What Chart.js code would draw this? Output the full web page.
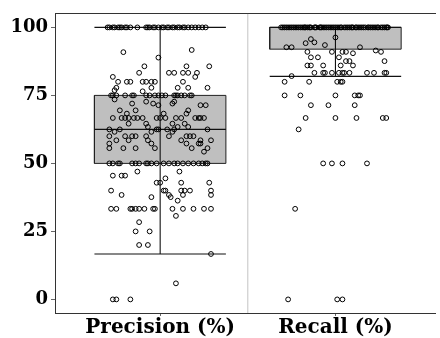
<!DOCTYPE html>
<html><head><meta charset="utf-8">
<script src="https://cdn.jsdelivr.net/npm/chart.js@4"></script>
<style>html,body{margin:0;padding:0;background:#fff}#wrap{width:440px;height:338px;position:relative}</style>
</head><body><div id="wrap"><canvas id="c"></canvas></div>
<script>
// ---------- data ----------
const categories = ['Precision (%)', 'Recall (%)'];
const yTicks = [0, 25, 50, 75, 100];
const boxQ1 = [50, 92];
const boxMedian = [62.5, 100];
const boxQ3 = [75, 100];
const whiskerLow = [16.67, 82];
const whiskerHigh = [100, 100];

const precisionValues = [
  100,100,100,100,100, 100,100,100,100,100, 100,100,100,100,100, 100,100,100,100,100, 100,100,100,100,100, 100,100,100,100,100, 100,100,100,
  90.9,91.7,88.9, 85.7,85.7,85.7, 83.3,83.3,83.3,83.3,83.3,83.3, 81.8,81.8, 80,80,80,80,80,80,80,80, 77.8,76.9, 77.8,77.8,77.8,77.8, 76.5,
  75,75,75,75,75, 75,75,75,75,75, 75,75,75,75,75, 75,75,75,75,
  73.5,71.4,71.4,72,72.7,72,71.4,72,72.7,69.5,69.5,69.5,68.3,68.3,68.3,
  66.7,66.7,66.7,66.7,66.7, 66.7,66.7,66.7,66.7,66.7, 66.7,66.7,66.7,66.7,66.7, 66.7,
  64.6,64.6,64.6,64.6, 63.4,63.4,63.4, 62.5,62.5,62.5,62.5,62.5,62.5,62.5, 61.6,61.6,61.6,
  60,60,60,60,60,60,60,60,60, 58.5,58.5,58.5,58.5,58.5,58.5, 57.3,57.3,57.3,57.3,57.3, 55.6,55.6,55.6,55.6,55.6,55.6, 54.3,
  50,50,50,50,50, 50,50,50,50,50, 50,50,50,50,50, 50,50,50,50,50, 50,50,
  45.5,45.5,45.5, 47,47, 44.5, 42.9,42.9,42.9,42.9, 40,40,40,40,40,40,40, 38.4,38.4,38.4,38.4, 37.6,37.6, 36.3,
  33.3,33.3,33.3,33.3,33.3, 33.3,33.3,33.3,33.3,33.3, 33.3,33.3,33.3,33.3,
  30.7,28.4,25,25,20,20,16.7,5.9,0,0,0
];
const precisionJitter = [
  -0.30,-0.29,-0.27,-0.26,-0.24, -0.23,-0.22,-0.20,-0.19,-0.17, -0.13,-0.08,-0.07,-0.06,-0.04, -0.03,-0.01,0.01,0.02,0.04, 0.05,0.07,0.08,0.10,0.11, 0.13,0.14,0.16,0.18,0.20, 0.22,0.24,0.26,
  -0.21,0.18,-0.01, -0.09,0.15,0.28, -0.12,0.05,0.08,0.13,0.16,0.21, -0.27,0.20, -0.24,-0.19,-0.17,-0.10,-0.08,-0.05,-0.03,0.13, -0.25,-0.26, -0.05,0.10,0.16,0.27, -0.10,
  -0.28,-0.27,-0.25,-0.20,-0.16, -0.15,-0.08,-0.06,-0.03,-0.01, 0.01,0.03,0.08,0.09,0.10, 0.12,0.14,0.17,0.18,
  -0.26,0.23,0.26,-0.16,-0.08,-0.04,-0.01,0.07,0.08,-0.23,-0.14,0.16,0.15,-0.19,0.02,
  -0.27,-0.22,-0.20,-0.18,-0.15, -0.13,-0.10,-0.02,0.00,0.03, 0.09,0.12,0.20,0.22,0.23, 0.25,
  -0.18,-0.08,0.07,0.14, -0.07,0.10,0.16, -0.29,-0.23,-0.02,-0.01,0.04,0.08,0.27, -0.26,-0.05,0.07,
  -0.29,-0.20,-0.16,-0.14,-0.08,0.05,0.15,0.17,0.19, -0.25,-0.18,-0.07,0.12,0.23,0.29, -0.29,-0.05,0.15,0.22,0.23, -0.29,-0.21,-0.14,-0.03,0.18,0.27, 0.25,
  -0.29,-0.27,-0.24,-0.23,-0.16, -0.14,-0.12,-0.08,-0.07,-0.05, -0.02,0.02,0.05,0.08,0.10, 0.13,0.16,0.19,0.22,0.24, 0.26,0.27,
  -0.27,-0.22,-0.20, -0.13,0.11, 0.03, -0.02,0.00,0.12,0.28, -0.28,0.02,0.03,0.12,0.14,0.17,0.29, -0.22,0.05,0.13,0.29, -0.05,0.06, 0.10,
  -0.28,-0.25,-0.17,-0.16,-0.14, -0.12,-0.09,-0.04,-0.03,0.07, 0.13,0.19,0.25,0.29,
  0.09,-0.12,-0.14,-0.06,-0.12,-0.07,0.29,0.09,-0.27,-0.25,-0.17
];

const recallValues = [
  100,100,100,100,100, 100,100,100,100,100, 100,100,100,100,100, 100,100,100,100,100, 100,100,100,100,100,
  100,100,100,100,100, 100,100,100,100,100, 100,100,100,100,100, 100,100,100,100,
  100,100,100,100,100, 100,100,100,100,100, 100,100,100,100,100, 100,100,100,100,100, 100,100,
  95.7,94.5,94.2,96.3,93.5, 92.7,92.7,92.7, 91.5,91, 91,91,91,91,90.5, 89,89,89, 87.6,87.6,87.6, 86,86,86,86,86,
  83.3,83.3,83.3,83.3,83.3, 83.3,83.3,83.3,83.3,83.3, 83.3,83.3, 82.1,
  80,80,80,80,80, 75,75,75,75,75,75, 71.4,71.4,71.4, 66.7,66.7,66.7,66.7,66.7, 62.5,
  50,50,50,50, 33.3, 0,0,0
];
const recallJitter = [
  -0.31,-0.29,-0.28,-0.26,-0.25, -0.24,-0.22,-0.21,-0.19,-0.18, -0.17,-0.15,-0.14,-0.12,-0.11, -0.09,-0.08,-0.07,-0.05,-0.04, -0.02,-0.01,0.00,0.02,0.03,
  0.05,0.06,0.08,0.09,0.10, 0.12,0.13,0.14,0.16,0.17, 0.19,0.20,0.22,0.23,0.24, 0.26,0.27,0.29,0.30,
  -0.30,-0.27,-0.23,-0.20,-0.175, -0.145,-0.115,-0.085,-0.06,-0.03, 0.01,0.035,0.07,0.095,0.115, 0.15,0.185,0.21,0.245,0.28, 0.295,-0.16,
  -0.14,-0.12,-0.17,0.00,-0.06, -0.28,-0.25,0.14, 0.23,0.26, -0.16,-0.02,0.04,0.06,0.10, -0.14,-0.10,0.02, 0.06,0.08,0.28, -0.16,-0.14,-0.07,0.03,0.10,
  -0.12,-0.07,-0.06,-0.02,0.02, 0.04,0.05,0.08,0.18,0.22, 0.28,0.29, -0.25,
  -0.29,-0.15,0.01,0.03,0.04, -0.29,-0.20,0.00,0.11,0.13,0.14, -0.14,-0.04,0.11, -0.17,0.00,0.12,0.27,0.29, -0.21,
  -0.07,-0.02,0.04,0.18, -0.23, -0.27,0.01,0.04
];

// ---------- build ----------
const halfBox = 0.375;
const lineData = [];
const boxShape = [];
categories.forEach((c, i) => {
  const x = i + 1;
  boxShape.push({x: x - halfBox, y: boxQ1[i]}, {x: x + halfBox, y: boxQ1[i]}, {x: x + halfBox, y: boxQ3[i]},
                {x: x - halfBox, y: boxQ3[i]}, {x: x - halfBox, y: boxQ1[i]}, {x: x, y: null});
  lineData.push({x: x - halfBox, y: boxMedian[i]}, {x: x + halfBox, y: boxMedian[i]}, {x: x, y: null});
  lineData.push({x: x - halfBox, y: whiskerHigh[i]}, {x: x + halfBox, y: whiskerHigh[i]}, {x: x, y: null});
  lineData.push({x: x - halfBox, y: whiskerLow[i]}, {x: x + halfBox, y: whiskerLow[i]}, {x: x, y: null});
  lineData.push({x: x, y: whiskerLow[i]}, {x: x, y: whiskerHigh[i]}, {x: x, y: null});
});
const precPts = precisionValues.map((v, i) => ({ x: 1 + precisionJitter[i], y: v }));
const recPts = recallValues.map((v, i) => ({ x: 2 + recallJitter[i], y: v }));
const sepData = [{x: 1.5, y: -5}, {x: 1.5, y: 105}];

const yFont = { family: '"DejaVu Serif", serif', size: 18, weight: 'bold' };
const xFont = { family: '"DejaVu Serif", serif', size: 20, weight: 'bold' };
const ptStyle = { type: 'scatter', pointRadius: 2.4, pointBorderWidth: 1, pointBorderColor: '#000',
  pointBackgroundColor: 'rgba(0,0,0,0)', borderColor: '#000', backgroundColor: 'rgba(0,0,0,0)', order: 1 };

// box fill: each box filled through the scales
const boxFillPlugin = {
  id: 'boxFill',
  beforeDatasetsDraw(chart) {
    const {ctx, scales: {x, y}} = chart;
    ctx.save();
    categories.forEach((c, i) => {
      const x0 = x.getPixelForValue(i + 1 - halfBox), x1 = x.getPixelForValue(i + 1 + halfBox);
      const y0 = y.getPixelForValue(boxQ3[i]), y1 = y.getPixelForValue(boxQ1[i]);
      ctx.fillStyle = '#BFBFBF';
      ctx.fillRect(x0, y0, x1 - x0, y1 - y0);
    });
    ctx.restore();
  }
};

new Chart(document.getElementById('c'), {
  type: 'scatter',
  data: {
    datasets: [
      Object.assign({ label: 'Precision', data: precPts }, ptStyle),
      Object.assign({ label: 'Recall', data: recPts }, ptStyle),
      { type: 'line', label: 'whiskers', data: lineData, borderColor: '#111', borderWidth: 1.1,
        pointRadius: 0, spanGaps: false, tension: 0, fill: false, order: 2 },
      { type: 'line', label: 'box', data: boxShape, borderColor: '#222', borderWidth: 1,
        pointRadius: 0, spanGaps: false, tension: 0, fill: false, order: 3 },
      { type: 'line', label: 'sep', data: sepData, borderColor: '#C4C4C4', borderWidth: 1,
        pointRadius: 0, fill: false, order: 4 }
    ]
  },
  plugins: [boxFillPlugin],
  options: {
    responsive: true, maintainAspectRatio: false, animation: false,
    layout: { padding: { top: 13, right: 0, left: 0, bottom: 0 } },
    plugins: { legend: { display: false }, tooltip: { enabled: false } },
    scales: {
      x: {
        type: 'linear', position: 'bottom', min: 0.4, max: 2.568, offset: false,
        afterBuildTicks: s => { s.ticks = categories.map((c, i) => ({ value: i + 1 })); },
        afterFit: s => { s.height = 25; },
        ticks: { font: xFont, color: '#000', padding: 0, maxRotation: 0, autoSkip: false,
          callback: v => categories[Math.round(v) - 1] },
        grid: { drawOnChartArea: false, drawTicks: true, tickLength: 3, tickColor: '#666', offset: false },
        border: { display: true, color: '#333', width: 1 }
      },
      xTop: {
        type: 'linear', position: 'top', min: 0.4, max: 2.568, display: true,
        afterFit: s => { s.height = 0; },
        ticks: { display: false },
        grid: { display: false, drawTicks: false },
        border: { display: true, color: '#333', width: 1 }
      },
      y: {
        type: 'linear', min: -5, max: 105,
        afterBuildTicks: s => { s.ticks = yTicks.map(v => ({ value: v })); },
        afterFit: s => { s.width = 55; },
        ticks: { font: yFont, color: '#000', padding: 3, callback: v => String(v) },
        grid: { drawOnChartArea: false, drawTicks: true, tickLength: 4, tickColor: '#666' },
        border: { display: true, color: '#333', width: 1 }
      }
    }
  }
});
</script>
</body></html>
